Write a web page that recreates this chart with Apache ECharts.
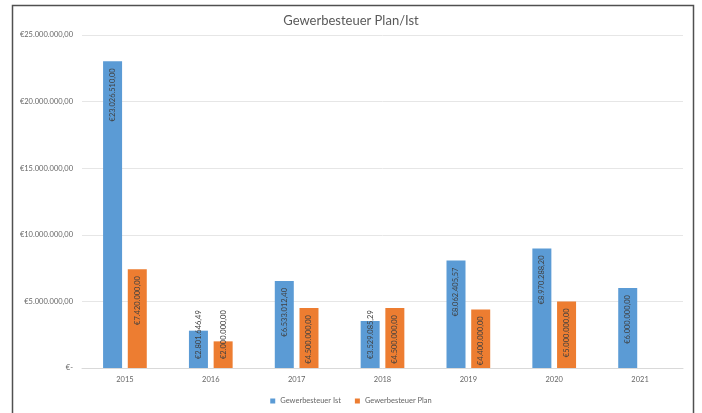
<!DOCTYPE html>
<html>
<head>
<meta charset="utf-8">
<script src="https://cdn.jsdelivr.net/npm/echarts@6/dist/echarts.min.js"></script>
<style>
html,body{margin:0;padding:0;background:#fff;}
#chart{width:702px;height:413px;}
</style>
</head>
<body>
<div id="chart"></div>
<script>
const categories = ['2015','2016','2017','2018','2019','2020','2021'];
const istValues = [23026510.00, 2801646.49, 6533012.40, 3529085.29, 8062405.57, 8970288.20, 6000000.00];
const planValues = [7420000.00, 2000000.00, 4500000.00, 4500000.00, 4400000.00, 5000000.00, null];
const seriesNames = ['Gewerbesteuer Ist', 'Gewerbesteuer Plan'];
const titleText = 'Gewerbesteuer Plan/Ist';

function fmtEuro(v) {
  if (v === 0) return '€-';
  const parts = v.toFixed(2).split('.');
  const intPart = parts[0].replace(/\B(?=(\d{3})+(?!\d))/g, '.');
  return '€' + intPart + ',' + parts[1];
}

const baseLabel = {
  show: true,
  rotate: 90,
  verticalAlign: 'middle',
  color: '#404040',
  fontSize: 7.5,
  fontFamily: 'Lato',
  formatter: p => fmtEuro(p.value)
};
const topLabel = Object.assign({}, baseLabel, {position: 'insideTop', align: 'right', distance: 7});
const bottomLabel = Object.assign({}, baseLabel, {position: 'insideBottom', align: 'left', distance: 9});

// Short bars: label would not fit, so it is anchored near the base and overflows upward
function toItems(values) {
  return values.map(v => v == null ? null : {value: v, label: v < 4000000 ? bottomLabel : topLabel});
}

const chart = echarts.init(document.getElementById('chart'), null, {renderer: 'canvas'});
chart.setOption({
  animation: false,
  backgroundColor: '#fff',
  title: {
    text: titleText,
    left: 'center',
    top: 9,
    textStyle: {fontFamily: 'Lato', fontSize: 13, fontWeight: 'normal', color: '#595959'}
  },
  legend: {
    bottom: 3,
    left: 'center',
    icon: 'rect',
    itemWidth: 5,
    itemHeight: 5,
    itemGap: 14,
    textStyle: {fontFamily: 'Lato', fontSize: 7.5, color: '#666'},
    data: seriesNames
  },
  grid: {left: 82, right: 19, top: 35, bottom: 45, containLabel: false},
  xAxis: {
    type: 'category',
    data: categories,
    axisLine: {lineStyle: {color: '#d9d9d9'}},
    axisTick: {show: false},
    axisLabel: {fontFamily: 'Lato', fontSize: 7.5, color: '#666', margin: 8}
  },
  yAxis: {
    type: 'value',
    min: 0,
    max: 25000000,
    interval: 5000000,
    axisLine: {show: false},
    axisTick: {show: false},
    splitLine: {lineStyle: {color: '#e6e6e6'}},
    axisLabel: {fontFamily: 'Lato', fontSize: 7.5, color: '#666', margin: 9, formatter: v => fmtEuro(v)}
  },
  series: [
    {name: seriesNames[0], type: 'bar', data: toItems(istValues), barWidth: 19, barGap: '30%',
     itemStyle: {color: '#5B9BD5'}, label: topLabel},
    {name: seriesNames[1], type: 'bar', data: toItems(planValues), barWidth: 19,
     itemStyle: {color: '#ED7D31'}, label: topLabel}
  ],
  graphic: [{
    type: 'rect',
    silent: true,
    shape: {x: 12.5, y: 5.5, width: 681, height: 430},
    style: {fill: 'none', stroke: '#505050', lineWidth: 1.5}
  }]
});
</script>
</body>
</html>
